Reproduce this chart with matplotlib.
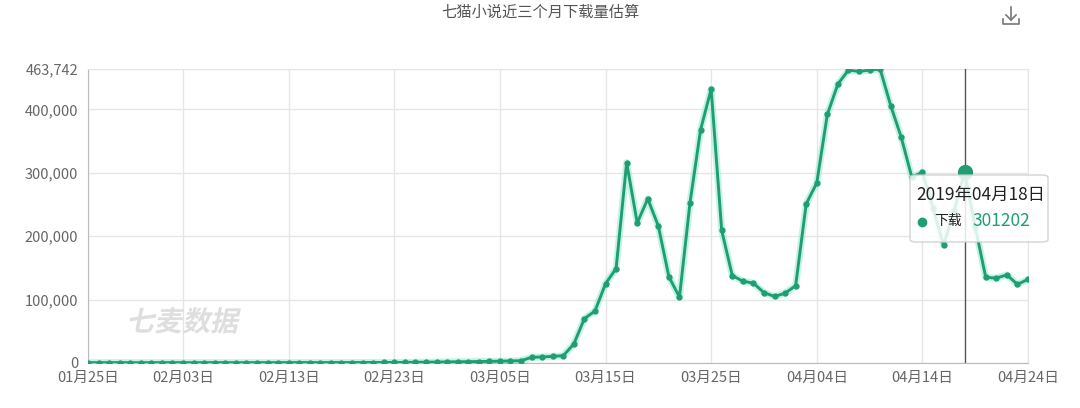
import matplotlib
matplotlib.use("Agg")
import matplotlib.pyplot as plt
from matplotlib.patches import FancyBboxPatch, PathPatch
from matplotlib.lines import Line2D
from matplotlib.ticker import FuncFormatter
from matplotlib.textpath import TextPath
from matplotlib.font_manager import FontProperties
from matplotlib.transforms import Affine2D, IdentityTransform

plt.rcParams['font.family'] = ['Noto Sans CJK SC', 'DejaVu Sans']

title = "七猫小说近三个月下载量估算"
series_name = "下载"
watermark = "七麦数据"

# 90 days: 2019-01-25 .. 2019-04-24
downloads = [
    600, 500, 550, 600, 500, 450, 500, 550, 600, 500,
    500, 550, 600, 500, 450, 500, 550, 500, 600, 550,
    600, 650, 600, 700, 650, 700, 750, 700, 800, 900,
    1000, 1200, 1300, 1500, 1700, 1900, 2100, 2300, 2600, 2900,
    3200, 3600, 9000, 9500, 10500, 11500, 30000, 70000, 82000, 125000,
    149000, 316000, 221000, 259000, 216000, 136000, 104000, 253000, 368000, 432000,
    209000, 138000, 129000, 126000, 111000, 105000, 110000, 122000, 251000, 284000,
    392000, 440000, 462000, 460000, 462000, 463742, 406000, 356000, 293000, 301000,
    245000, 186000, 240000, 301202, 215000, 135000, 134000, 139000, 124000, 132000,
]
tick_idx = [0, 9, 19, 29, 39, 49, 59, 69, 79, 89]
tick_labels = ["01月25日", "02月03日", "02月13日", "02月23日", "03月05日",
               "03月15日", "03月25日", "04月04日", "04月14日", "04月24日"]
y_ticks = [0, 100000, 200000, 300000, 400000, 463742]
hover_idx = 83
hover_label = "2019年04月18日"

green = "#1f9e72"
x = list(range(len(downloads)))

fig = plt.figure(figsize=(10.8, 4.08), dpi=100)
ax = fig.add_axes([88 / 1080, 45 / 408, 940 / 1080, 294 / 408])

ax.plot(x, downloads, color="#8de8c8", lw=5, alpha=0.5, solid_capstyle="round", zorder=2)
ax.plot(x, downloads, color=green, lw=2.1, marker="o", ms=3.5, zorder=3)

ax.set_xlim(0, len(downloads) - 1)
ax.set_ylim(0, max(y_ticks))
ax.set_xticks(tick_idx)
ax.set_xticklabels(tick_labels)
ax.set_yticks(y_ticks)
ax.yaxis.set_major_formatter(FuncFormatter(lambda v, p: f"{int(v):,}"))
ax.tick_params(length=0, colors="#666666", labelsize=10.5)
ax.tick_params(axis="x", pad=6)
ax.tick_params(axis="y", pad=7)
ax.grid(True, color="#e6e6e6", lw=1)
ax.set_axisbelow(True)
for side in ["top", "right"]:
    ax.spines[side].set_color("#e6e6e6")
for side in ["left", "bottom"]:
    ax.spines[side].set_color("#bbbbbb")

# slanted watermark
fp = FontProperties(family="Noto Sans CJK SC", weight="bold")
tp = TextPath((0, 0), watermark, size=28, prop=fp)
wm_tr = Affine2D().skew_deg(12, 0).translate(126, 408 - 331) + IdentityTransform()
fig.patches.append(PathPatch(tp, transform=wm_tr, facecolor="#dedede",
                             edgecolor="none", zorder=1))

# hover line + highlighted point
ax.axvline(hover_idx, color="#555555", lw=1, zorder=4)
ax.plot([hover_idx], [downloads[hover_idx]], "o", color=green, ms=10, zorder=5)

# tooltip
box = FancyBboxPatch((910 / 1080, 166 / 408), 138 / 1080, 67 / 408,
                     boxstyle="round,pad=0,rounding_size=0.006",
                     transform=fig.transFigure, facecolor="white", alpha=0.85,
                     edgecolor="#cccccc", lw=1, zorder=10)
fig.patches.append(box)
fig.text(916 / 1080, 1 - 195 / 408, hover_label, fontsize=12.5, color="#222222",
         ha="left", va="center", zorder=11)
fig.add_artist(Line2D([922 / 1080], [1 - 222 / 408], marker="o", ms=6,
                      color=green, transform=fig.transFigure, zorder=11))
fig.text(934 / 1080, 1 - 221 / 408, series_name, fontsize=10, color="#222222",
         ha="left", va="center", zorder=11)
fig.text(972 / 1080, 1 - 221 / 408, f"{downloads[hover_idx]}", fontsize=12.5, color=green,
         ha="left", va="center", zorder=11)

fig.text(0.5, 1 - 12 / 408, title, fontsize=11, color="#555555", ha="center", va="center")

# download icon
c = "#777777"
fig.add_artist(Line2D([1011 / 1080] * 2, [1 - 7 / 408, 1 - 20 / 408], color=c, lw=1.2))
fig.add_artist(Line2D([1006 / 1080, 1011 / 1080, 1016 / 1080],
                      [1 - 15 / 408, 1 - 20 / 408, 1 - 15 / 408], color=c, lw=1.2))
fig.add_artist(Line2D([1003 / 1080, 1003 / 1080, 1019 / 1080, 1019 / 1080],
                      [1 - 19 / 408, 1 - 24 / 408, 1 - 24 / 408, 1 - 19 / 408], color=c, lw=1.2))

fig.savefig("out.png", dpi=100, facecolor="white")
